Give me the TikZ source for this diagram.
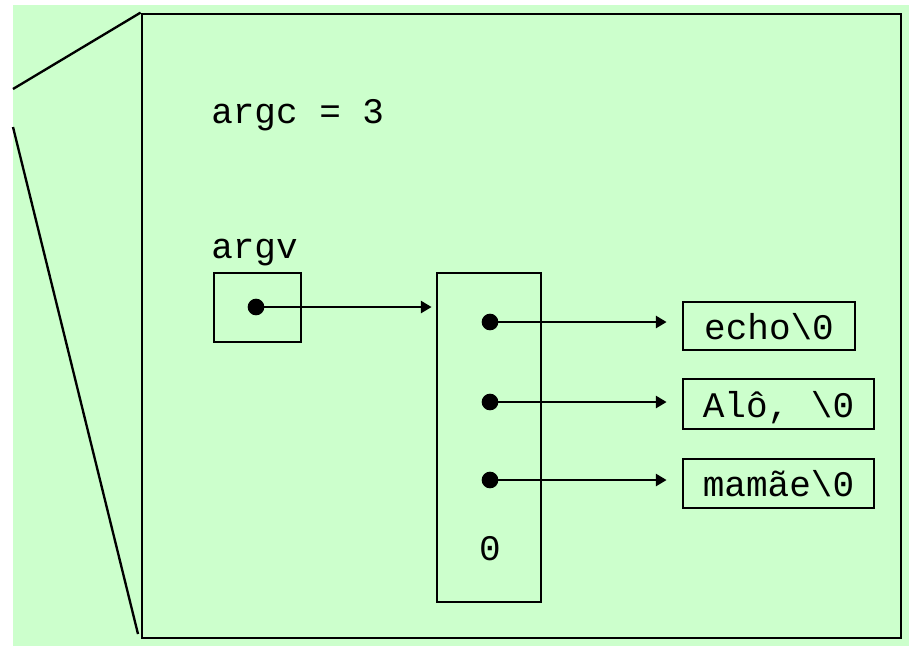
\documentclass[tikz,border=0pt]{standalone}
\usepackage{fontspec}
\setmonofont{Liberation Mono}
\usetikzlibrary{arrows.meta}
\definecolor{bg}{HTML}{CCFFCC}
\begin{document}
\begin{tikzpicture}[x=0.75pt,y=-0.75pt,
  mono/.style={font=\ttfamily\fontsize{27}{30}\selectfont},
  txt/.style={mono, inner sep=0pt},
  cell/.style={mono, draw, line width=2.1pt, inner sep=0pt, text height=22.5pt, text depth=3pt},
  dot/.style={circle, fill, inner sep=0pt, minimum size=12.5pt},
  ptr/.style={line width=1.75pt, -{Triangle[length=8pt,width=9pt]}},
  edgeline/.style={line width=1.75pt}]
\useasboundingbox (0,0) rectangle (909,646);
\fill[bg] (13,5) rectangle (909,646);
% main frame
\node[draw, line width=2.1pt, inner sep=0pt, minimum width=569.25pt, minimum height=468pt] (frame) at (521.5,326) {};
\coordinate (u0) at (13,89);
\coordinate (l0) at (13,127);
\coordinate (l1) at (138,634);
\draw[edgeline] (u0) -- (frame.north west);
\draw[edgeline] (l0) -- (l1);
% texts
\node[txt, anchor=base west] (argc) at (211,123) {argc = 3};
\node[txt, anchor=base west] (argvlbl) at (211,258) {argv};
% argv box
\node[cell, minimum width=65.25pt, minimum height=51.75pt] (argv) at (257.5,307.5) {};
\node[dot] (d0) at (256,307) {};
% array
\node[cell, minimum width=78pt, minimum height=246.75pt] (arr) at (489,437.5) {};
\node[dot] (d1) at (490,322) {};
\node[dot] (d2) at (490,402) {};
\node[dot] (d3) at (490,480) {};
\node[txt, anchor=base] (zero) at (490,560) {0};
% strings
\node[cell, minimum width=129pt, minimum height=36pt] (s1) at (769,326) {echo\textbackslash 0};
\node[cell, minimum width=143.25pt, minimum height=37.5pt] (s2) at (778.5,404) {Alô, \textbackslash 0};
\node[cell, minimum width=143.25pt, minimum height=36.75pt] (s3) at (778.5,483.5) {mamãe\textbackslash 0};
% pointers
\draw[ptr, shorten >=3pt] (d0.center) -- (arr.west |- d0);
\draw[ptr, shorten >=11.25pt] (d1.center) -- (s1.west |- d1);
\draw[ptr, shorten >=11.25pt] (d2.center) -- (s2.west |- d2);
\draw[ptr, shorten >=11.25pt] (d3.center) -- (s3.west |- d3);
\end{tikzpicture}
\end{document}
